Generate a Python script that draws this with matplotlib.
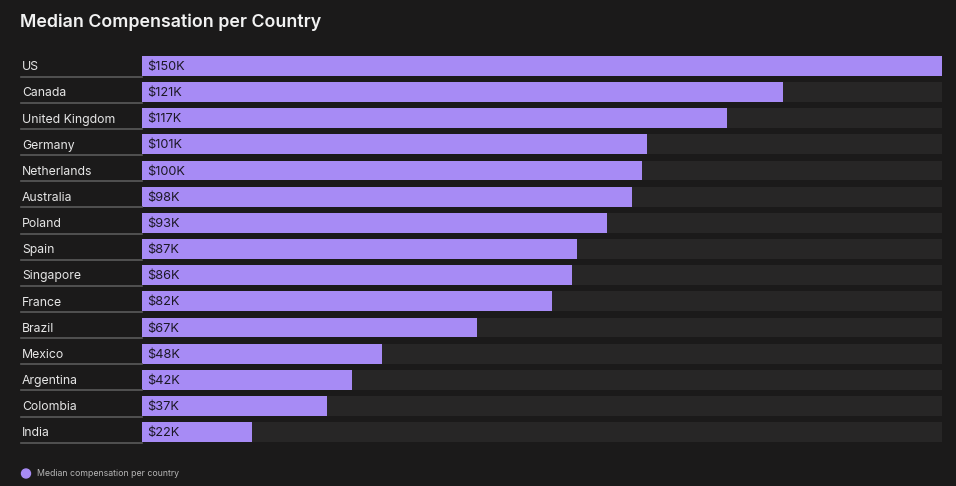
import matplotlib
matplotlib.use("Agg")
from matplotlib import pyplot as plt
from matplotlib import transforms
from matplotlib.lines import Line2D
from matplotlib.patches import Ellipse

# Data
countries = ["US", "Canada", "United Kingdom", "Germany", "Netherlands", "Australia",
             "Poland", "Spain", "Singapore", "France", "Brazil", "Mexico",
             "Argentina", "Colombia", "India"]
# bar lengths as drawn (thousand USD)
bar_values = [150, 120.2, 109.7, 94.7, 93.8, 91.9, 87.2, 81.6, 80.6, 76.9, 62.8, 45.0, 39.4, 34.7, 20.6]
value_labels = ["$150K", "$121K", "$117K", "$101K", "$100K", "$98K", "$93K", "$87K",
                "$86K", "$82K", "$67K", "$48K", "$42K", "$37K", "$22K"]
track_max = 150
legend_label = "Median compensation per country"

BG = "#1b1a1a"
TRACK = "#272626"
BAR = "#a78bf5"
TEXT = "#e6e6e6"

plt.rcParams['font.family'] = ['Inter', 'DejaVu Sans']

W, H = 956, 486
fig = plt.figure(figsize=(W / 100, H / 100), dpi=100, facecolor=BG)

# axes spans bar area in pixels: x 142..942, y 56..442
left, right, top, bottom = 142, 942, 56, 442
ax = fig.add_axes([left / W, 1 - bottom / H, (right - left) / W, (bottom - top) / H])
ax.set_facecolor(BG)

n = len(countries)
ys = list(range(n))
bh = 0.76
ax.barh(ys, [track_max] * n, height=bh, color=TRACK, left=0)
ax.barh(ys, bar_values, height=bh, color=BAR, left=0)
ax.set_xlim(0, track_max)
ax.set_ylim(n - 1 + bh / 2, -bh / 2)
ax.axis("off")

for y, lab in zip(ys, value_labels):
    ax.text(5 * track_max / 800, y + 0.04, lab, va="center", ha="left",
            fontsize=9.2, color="#1c1826")

# country labels and underlines: x in figure pixels, y in data
px = transforms.blended_transform_factory(
    transforms.Affine2D().scale(fig.dpi / 100), ax.transData)
for y, name in zip(ys, countries):
    ax.text(22, y + 0.05, name, transform=px, va="center", ha="left",
            fontsize=8.8, color=TEXT, clip_on=False)
    ax.add_line(Line2D([21, 142], [y + bh / 2 + 0.03] * 2, transform=px,
                       color="#5a5a5a", lw=1.2, clip_on=False))

fig.text(20 / W, 1 - 22 / H, "Median Compensation per Country", ha="left", va="center",
         fontsize=12.8, color="#f2f2f2", fontweight="semibold")

# legend
fig.add_artist(Ellipse((26 / W, 1 - 473.5 / H), 9 / W, 9 / H,
                       transform=fig.transFigure, color=BAR))
fig.text(37 / W, 1 - 473.5 / H, legend_label, ha="left", va="center",
         fontsize=6.3, color="#b5b5b5")

fig.savefig("out.png", dpi=100, facecolor=BG)
